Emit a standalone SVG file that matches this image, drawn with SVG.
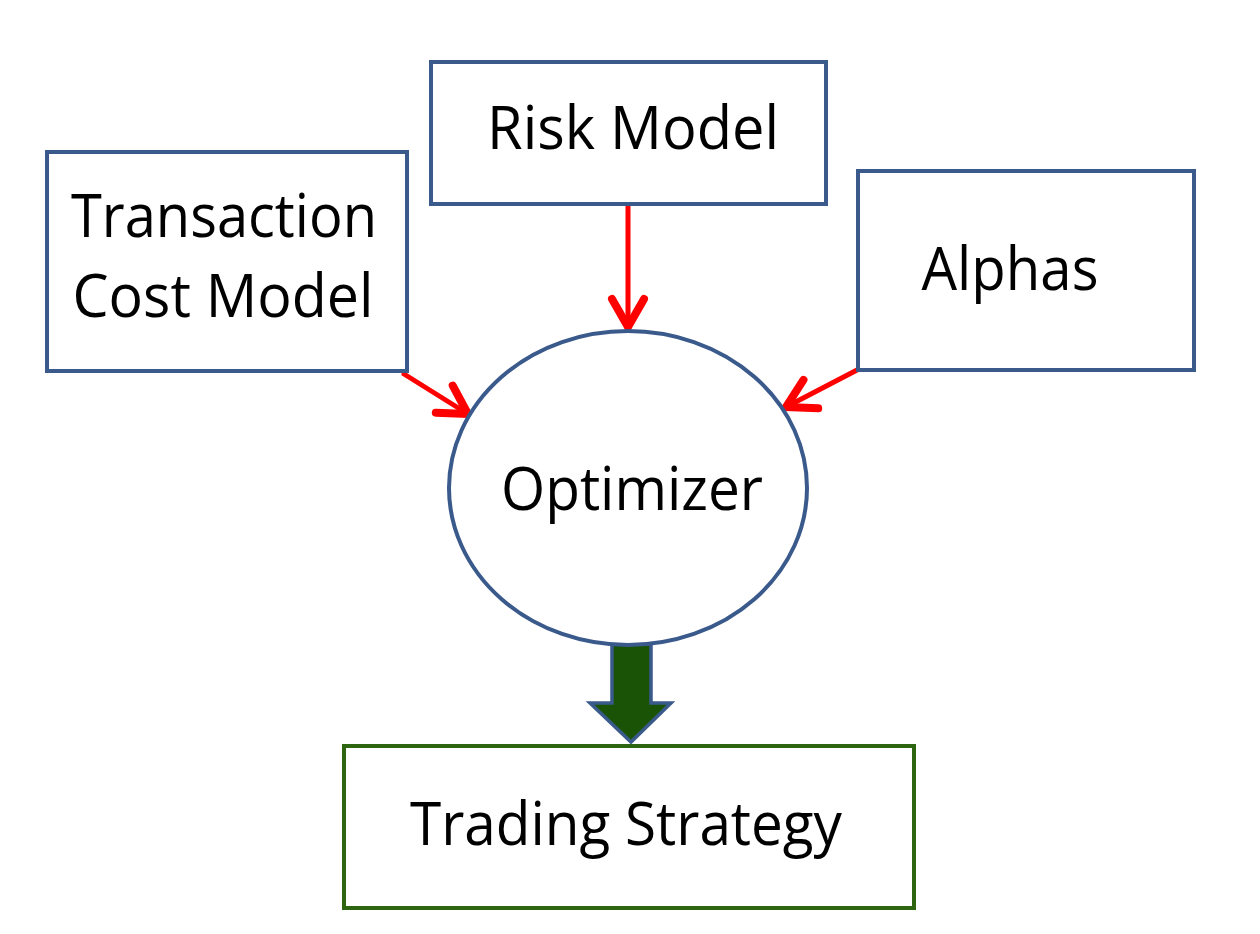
<svg xmlns="http://www.w3.org/2000/svg" width="1260" height="934" viewBox="0 0 1260 934">
  <style>
    .box { fill: #ffffff; stroke: #3A5A8C; stroke-width: 4; }
    .gbox { fill: #ffffff; stroke: #2E6510; stroke-width: 4; }
    .lbl { font-family: "Open Sans", "Liberation Sans", sans-serif; font-size: 60px; fill: #000000; }
    .conn { stroke: #FF0000; stroke-width: 5; fill: none; stroke-linecap: round; }
  </style>
  <defs>
    <marker id="vhead" markerUnits="userSpaceOnUse" markerWidth="40" markerHeight="40" refX="0" refY="0" viewBox="-25 -15 30 30" orient="auto" overflow="visible">
      <path d="M-21,-12 L0,0 L-21,12" fill="none" stroke="#FF0000" stroke-width="6" stroke-linecap="round" stroke-linejoin="miter"/>
    </marker>
  </defs>
  <rect width="1260" height="934" fill="#ffffff"/>

  <g id="connectors">
    <line class="conn" x1="628" y1="206" x2="628" y2="327" marker-end="url(#vhead)"/>
    <line class="conn" x1="404" y1="374" x2="468" y2="414" marker-end="url(#vhead)"/>
    <line class="conn" x1="859" y1="369" x2="786" y2="407" marker-end="url(#vhead)"/>
    <path id="block-arrow" d="M612,644 L651,644 L651,703 L671,703 L631,742 L590,703 L612,703 Z" fill="#1B5306" stroke="#3A5A8C" stroke-width="3.5" stroke-linejoin="miter"/>
  </g>

  <g id="node-transaction">
    <rect class="box" x="47" y="152" width="360" height="219"/>
    <text class="lbl" x="224" y="237" text-anchor="middle" textLength="306" lengthAdjust="spacingAndGlyphs">Transaction</text>
    <text class="lbl" x="223" y="317" text-anchor="middle" textLength="301" lengthAdjust="spacingAndGlyphs">Cost Model</text>
  </g>

  <g id="node-risk">
    <rect class="box" x="431" y="62" width="395" height="142"/>
    <text class="lbl" x="633" y="149" text-anchor="middle" textLength="292" lengthAdjust="spacingAndGlyphs">Risk Model</text>
  </g>

  <g id="node-alphas">
    <rect class="box" x="858" y="171" width="336" height="199"/>
    <text class="lbl" x="1010" y="290" text-anchor="middle" textLength="177" lengthAdjust="spacingAndGlyphs">Alphas</text>
  </g>

  <g id="node-optimizer">
    <ellipse class="box" cx="628" cy="488" rx="179" ry="157"/>
    <text class="lbl" x="632" y="510" text-anchor="middle" textLength="262" lengthAdjust="spacingAndGlyphs">Optimizer</text>
  </g>

  <g id="node-trading">
    <rect class="gbox" x="344" y="746" width="570" height="162"/>
    <text class="lbl" x="626" y="845" text-anchor="middle" textLength="432" lengthAdjust="spacingAndGlyphs">Trading Strategy</text>
  </g>
</svg>
